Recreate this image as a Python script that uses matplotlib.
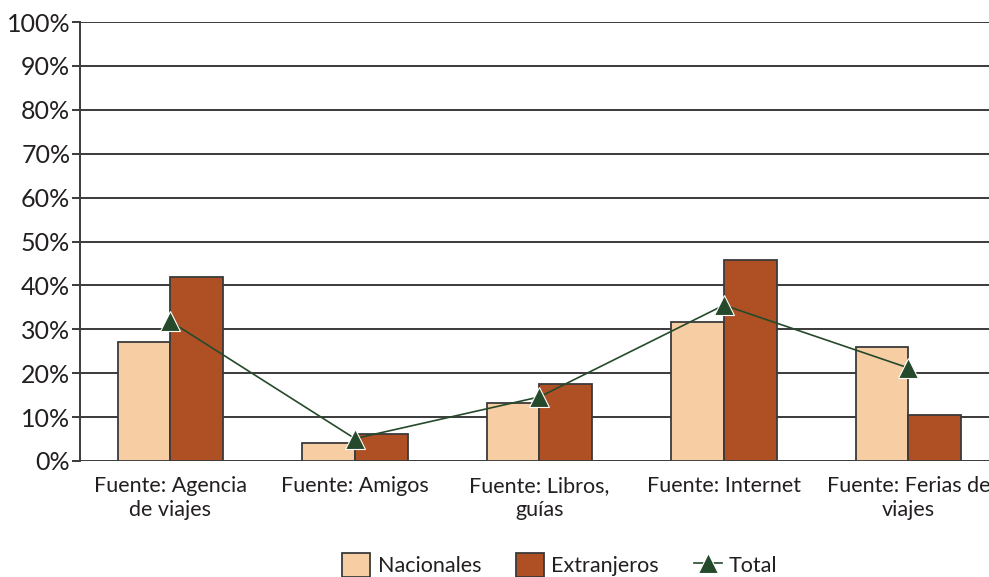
import numpy as np
import matplotlib.pyplot as plt
from matplotlib.ticker import PercentFormatter

plt.rcParams['font.family'] = ['Lato', 'DejaVu Sans']

categorias = ["Fuente: Agencia\nde viajes", "Fuente: Amigos", "Fuente: Libros,\nguías",
              "Fuente: Internet", "Fuente: Ferias de\nviajes"]
nacionales = [27.1, 4.1, 13.2, 31.7, 26.0]
extranjeros = [41.9, 6.2, 17.5, 45.8, 10.5]
total = [31.8, 5.1, 14.6, 35.5, 21.2]

colorNac = "#F7CDA3"
colorExt = "#AE5024"
colorTot = "#254A2B"
colorGrid = "#3A3A3A"
colorText = "#231F20"

fig = plt.figure(figsize=(9.89, 5.77), dpi=100)
ax = fig.add_axes([80/989, 116/577, 922.5/989, 439/577])

x = np.arange(len(categorias))
w = 0.286
b1 = ax.bar(x - w/2, nacionales, w, color=colorNac, edgecolor=colorGrid, linewidth=1.3,
            label="Nacionales", zorder=2)
b2 = ax.bar(x + w/2, extranjeros, w, color=colorExt, edgecolor=colorGrid, linewidth=1.3,
            label="Extranjeros", zorder=2)
l1, = ax.plot(x, total, color=colorTot, linewidth=1.2, marker="^", markersize=14,
              markerfacecolor=colorTot, markeredgecolor="white", markeredgewidth=0.8,
              label="Total", zorder=3)

ax.set_xlim(-0.49, 4.51)
ax.set_ylim(0, 100)
ax.set_yticks(np.arange(0, 101, 10))
ax.yaxis.set_major_formatter(PercentFormatter(decimals=0))
ax.yaxis.grid(True, color=colorGrid, linewidth=1.4, zorder=0)
ax.set_axisbelow(True)
for s in ["top", "right", "bottom"]:
    ax.spines[s].set_visible(False)
ax.spines["left"].set_color(colorGrid)
ax.spines["left"].set_linewidth(1.4)
ax.tick_params(axis="y", length=6, width=1.4, color=colorGrid, labelsize=18, pad=1,
               labelcolor=colorText)
ax.set_xticks(x)
ax.set_xticklabels(categorias, fontsize=15.5, color=colorText, linespacing=1.25)
ax.tick_params(axis="x", length=0, pad=11)

fig.legend([b1, b2, l1], ["Nacionales", "Extranjeros", "Total"],
           loc="center", bbox_to_anchor=(560/989, 1 - 565/577), ncol=3, frameon=False,
           fontsize=15.5, handlelength=1.3, handleheight=1.3, columnspacing=1.6,
           handletextpad=0.35, labelcolor=colorText)

fig.savefig("out.png", dpi=100)
